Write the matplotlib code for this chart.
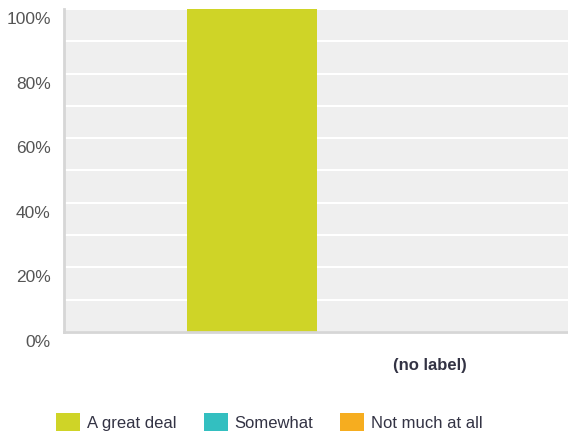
import matplotlib.pyplot as plt
import matplotlib.transforms as mtransforms
from matplotlib.patches import Patch

plt.rcParams['font.family'] = ['Liberation Sans', 'DejaVu Sans']

series = ["A great deal", "Somewhat", "Not much at all"]
values = [100, 0, 0]
colors = ["#cfd427", "#33bfc0", "#f6ad1f"]
category = "(no label)"

fig = plt.figure(figsize=(5.68, 4.33), dpi=100)
ax = fig.add_axes([64 / 568, 1 - 332 / 433, 1 - 64 / 568, 323 / 433])
ax.set_facecolor("#efefef")

for i, (name, v, c) in enumerate(zip(series, values, colors)):
    ax.bar(i, v, width=1.0, color=c, zorder=2)

ax.set_xlim(-1.446, 2.43)
ax.set_ylim(0, 100)

ax.set_yticks(range(0, 101, 10), minor=True)
ax.set_yticks(range(0, 101, 20))
ax.set_yticklabels([f"{t}%" for t in range(0, 101, 20)], fontsize=12.5, color="#555555")
ax.grid(axis="y", which="both", color="white", linewidth=1.5, zorder=1)
ax.set_axisbelow(True)
ax.tick_params(axis="y", which="both", length=0, pad=9.5)
ax.tick_params(axis="x", length=0)

# tick labels sit a little below their gridline
offset = mtransforms.ScaledTranslation(0, -9 / 100, fig.dpi_scale_trans)
for lbl in ax.get_yticklabels():
    lbl.set_transform(lbl.get_transform() + offset)

ax.set_xticks([1.37])
ax.set_xticklabels([category], fontsize=12, fontweight="bold", color="#333344")
ax.tick_params(axis="x", pad=19)

for side in ["top", "right"]:
    ax.spines[side].set_visible(False)
for side in ["left", "bottom"]:
    ax.spines[side].set_color("#d6d6d6")
    ax.spines[side].set_linewidth(2)

handles = [Patch(facecolor=c, edgecolor="none") for c in colors]
fig.legend(handles, series, loc="center left", bbox_to_anchor=(56 / 568, 1 - 422 / 433),
           ncol=3, frameon=False, fontsize=12, handlelength=1.44, handleheight=1.25,
           handletextpad=0.42, columnspacing=1.62, borderpad=0, borderaxespad=0,
           labelcolor="#333344")

fig.savefig("out.png", dpi=100)
